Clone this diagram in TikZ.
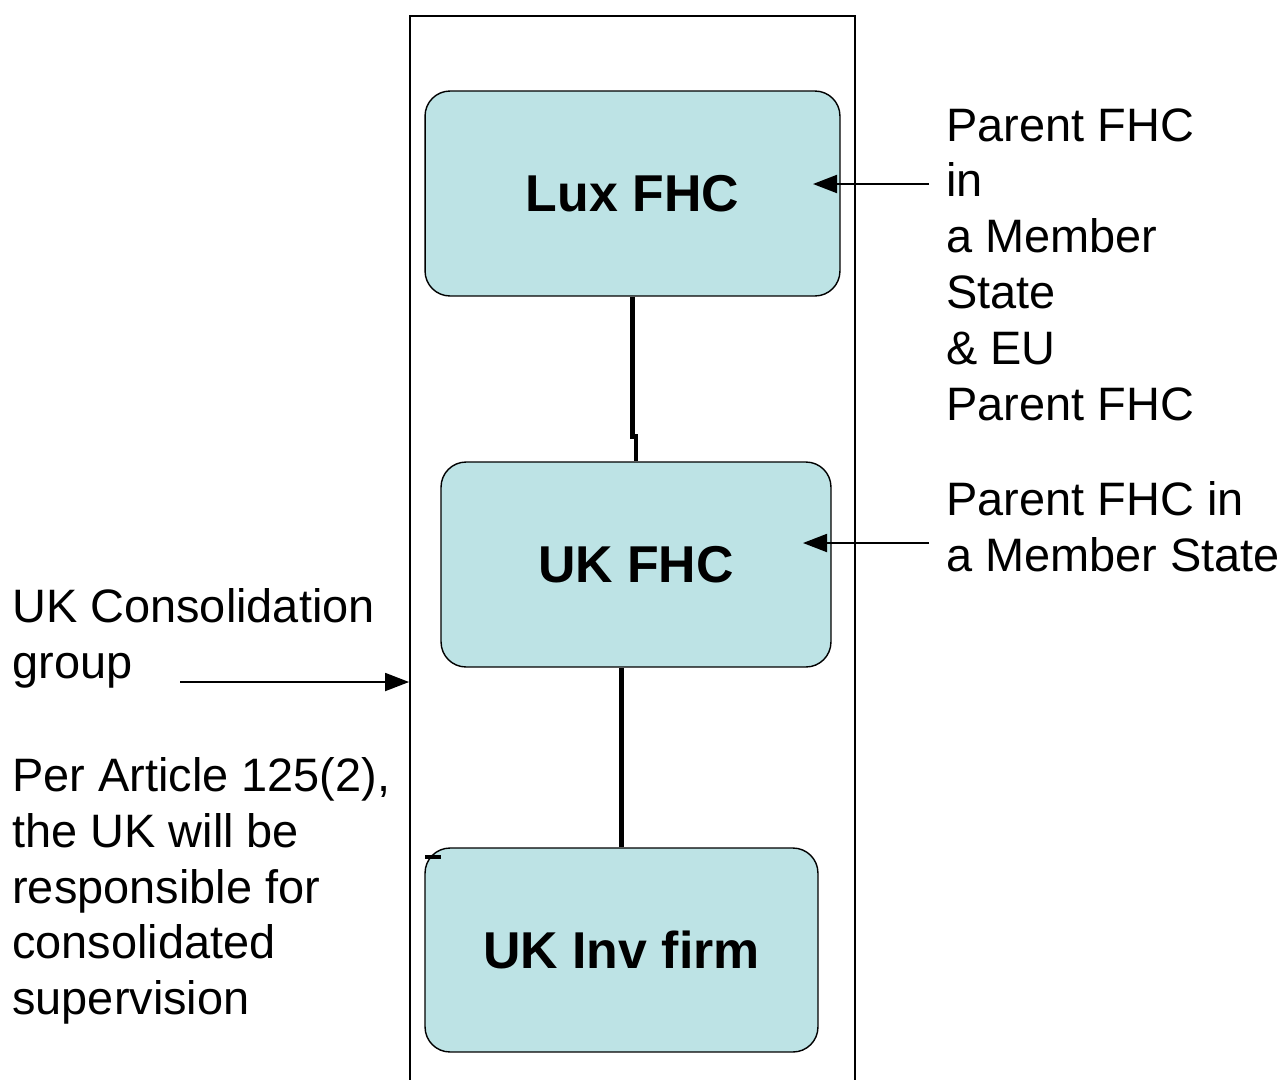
\documentclass[tikz,border=0pt]{standalone}
\usepackage{fontspec}
\setmainfont{Liberation Sans}
\usetikzlibrary{arrows.meta}
\definecolor{boxcyan}{RGB}{189,227,229}
\tikzset{firm/.style={draw, rounded corners=0.5cm, fill=boxcyan, line width=0.8pt, font=\fontsize{29.5}{34}\selectfont\bfseries}}
\tikzset{link/.style={line width=2.8pt}}
\tikzset{pointer/.style={line width=1.1pt, -{Triangle[length=0.48cm, width=0.36cm]}}}
\tikzset{note/.style={inner sep=0pt, align=left, font=\fontsize{26.7}{31.8}\selectfont}}

\begin{document}
\begin{tikzpicture}[x=0.02cm, y=-0.02cm]
        \useasboundingbox (0,0) rectangle (1284,1079);
        \clip (0,0) rectangle (1284,1079);

        \node[draw, line width=1.1pt, minimum width=8.9cm, minimum height=22.08cm, inner sep=0pt] (Grp) at (632.5,568) {};

        \node[firm, minimum width=8.3cm, minimum height=4.1cm] (Lux) at (632.5,193.5) {Lux FHC};
        \node[firm, minimum width=7.8cm, minimum height=4.1cm] (UKfhc) at (636,564.5) {UK FHC};
        \node[firm, minimum width=7.86cm, minimum height=4.08cm] (UKinv) at (621.5,950) {UK Inv firm};

        \draw [link] (Lux.south) -- ++(0,140) -| (UKfhc.north);
        \draw [link] (UKinv.north) -- (UKinv.north |- UKfhc.south);
        \coordinate (stub) at (425,857);
        \draw [line width=2pt] (stub) -- ++(16,0);

        \node[note, anchor=north west] (ParentEU) at (946,108)
        {Parent FHC\\in\\a Member\\State\\\& EU\\Parent FHC};
        \node[note, anchor=north west] (ParentMS) at (946,481)
        {Parent FHC in\\a Member State};
        \node[note, anchor=north west] (Group) at (12,588)
        {UK Consolidation\\group};
        \node[note, anchor=north west] (Article) at (12,757)
        {Per Article 125(2),\\the UK will be\\responsible for\\consolidated\\supervision};

        \coordinate (LuxTail) at (929,184);
        \coordinate (LuxTip) at (813,184);
        \coordinate (FhcTail) at (929,543);
        \coordinate (FhcTip) at (803,543);
        \coordinate (GrpTail) at (180,682);

        \draw [pointer] (LuxTail) -- (LuxTip);
        \draw [pointer] (FhcTail) -- (FhcTip);
        \draw [pointer] (GrpTail) -- (GrpTail -| Grp.west);
    \end{tikzpicture}
\end{document}
